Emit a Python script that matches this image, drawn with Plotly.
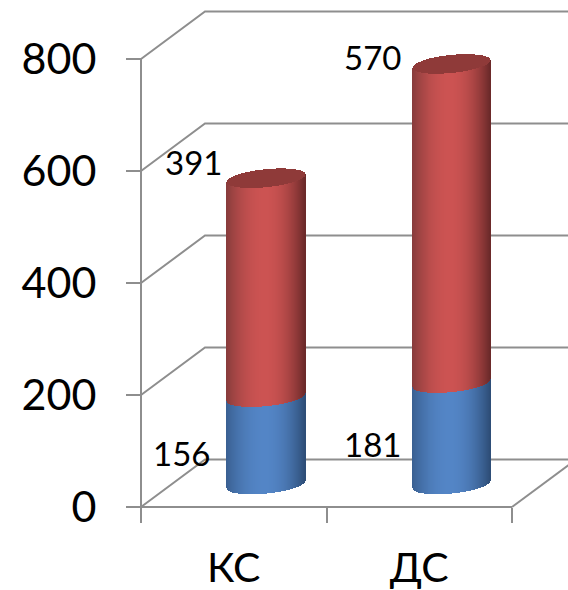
import numpy as np
import plotly.graph_objects as go

categories = ["КС", "ДС"]
blue_values = [156, 181]
red_values = [391, 570]
y_ticks = [0, 200, 400, 600, 800]

W, H = 568, 590
PLOT_L, PLOT_R, PLOT_T, PLOT_B = 141, 512, 59, 507
PX_X = (PLOT_R - PLOT_L) / 2
PX_Y = (PLOT_B - PLOT_T) / 800
DEPTH_X = 64 / PX_X
DEPTH_Y = 47.5 / PX_Y
BASE_Y = 22.5 / PX_Y
CENTER_SHIFT = 32.2 / PX_X
HALF_W = 38.8 / PX_X
ELL_B = 9.0 / PX_Y
TILT = 3.8 / PX_Y
N = 79
GRID = "#8e8e8e"
FONT = "Lato, Carlito, 'Open Sans', sans-serif"

u = np.linspace(-1, 1, N)
strip = 2 * HALF_W / (N - 1)
semi = np.sqrt(np.clip(1 - u ** 2, 0, 1))


def shade(u_val, left, mid, right):
    peak = -0.02
    if u_val < peak:
        t = ((peak - u_val) / (1 + peak)) ** 2.0
        end = left
    else:
        t = ((u_val - peak) / (1 - peak)) ** 2.0
        end = right
    return "rgb({},{},{})".format(*[round(m + (e - m) * t) for m, e in zip(mid, end)])


RED = ((136, 60, 60), (204, 83, 82), (108, 42, 42))
BLUE = ((58, 96, 146), (83, 133, 198), (46, 78, 120))
red_cols = [shade(a, *RED) for a in u]
blue_cols = [shade(a, *BLUE) for a in u]
cap_cols = ["rgb(143,58,57)" for _ in u]

fig = go.Figure()


def line(xs, ys):
    fig.add_trace(go.Scatter(
        x=xs, y=ys, mode="lines", line=dict(color=GRID, width=2), hoverinfo="skip",
        cliponaxis=True, showlegend=False, zorder=-1))


# walls, floor and front axes
for v in y_ticks:
    line([0, DEPTH_X, 2 + 2 * DEPTH_X], [v, v + DEPTH_Y, v + DEPTH_Y])
line([2, 2 + 2 * DEPTH_X], [0, 2 * DEPTH_Y])
line([0, 0], [0, y_ticks[-1]])
line([0, 2], [0, 0])

for i, (b, r) in enumerate(zip(blue_values, red_values)):
    cx = i + 0.5 + CENTER_SHIFT
    xs = cx + u * HALF_W
    lower = BASE_Y + TILT * u - ELL_B * semi
    fig.add_trace(go.Bar(
        x=xs, y=[b] * N, base=lower, width=strip * 1.15,
        marker=dict(color=blue_cols, line=dict(width=0)),
        hoverinfo="skip", showlegend=False))
    fig.add_trace(go.Bar(
        x=xs, y=[r] * N, base=lower + b, width=strip * 1.15,
        marker=dict(color=red_cols, line=dict(width=0)),
        hoverinfo="skip", showlegend=False))
    fig.add_trace(go.Bar(
        x=xs, y=2 * ELL_B * semi, base=lower + b + r, width=strip * 1.15,
        marker=dict(color=cap_cols, line=dict(width=0)),
        hoverinfo="skip", showlegend=False))

anchors = []
for i, (b, r) in enumerate(zip(blue_values, red_values)):
    cx = i + 0.5 + CENTER_SHIFT
    anchors.append((cx, BASE_Y + b + r, r))
    anchors.append((cx, BASE_Y + b, b))
for cx, y, text in anchors:
    dx, dy = {391: (-72, 16), 570: (-79, 7), 156: (-84, -56), 181: (-79, -61)}[text]
    fig.add_annotation(x=cx, y=y, text=str(text), showarrow=False, xshift=dx, yshift=dy,
                       font=dict(family=FONT, size=33, color="black"))

fig.update_layout(
    width=W, height=H, autosize=False,
    margin=dict(l=0, r=0, t=0, b=0, pad=0),
    paper_bgcolor="white", plot_bgcolor="rgba(0,0,0,0)",
    barmode="overlay", bargap=0, showlegend=False,
    xaxis=dict(
        range=[-PLOT_L / PX_X, (W - PLOT_L) / PX_X],
        anchor="free", position=(H - PLOT_B) / H,
        tickmode="array", tickvals=[0.5, 1.5], ticktext=categories,
        ticks="", showgrid=False, zeroline=False, showline=False, automargin=False,
        tickfont=dict(family=FONT, size=41, color="black"), ticklabelstandoff=33,
        minor=dict(tickmode="array", tickvals=[0, 1, 2], ticks="outside", ticklen=15,
                   tickwidth=2, tickcolor=GRID, showgrid=False),
    ),
    yaxis=dict(
        range=[-(H - PLOT_B) / PX_Y, PLOT_B / PX_Y],
        anchor="free", position=PLOT_L / W,
        tickmode="array", tickvals=y_ticks,
        ticks="outside", ticklen=15, tickwidth=2, tickcolor=GRID,
        showgrid=False, zeroline=False, showline=False, automargin=False,
        tickfont=dict(family=FONT, size=43, color="black"), ticklabelstandoff=21,
    ),
)

fig.write_html("out.html", config={"displayModeBar": False},
               post_script="document.body.style.margin='0';")
